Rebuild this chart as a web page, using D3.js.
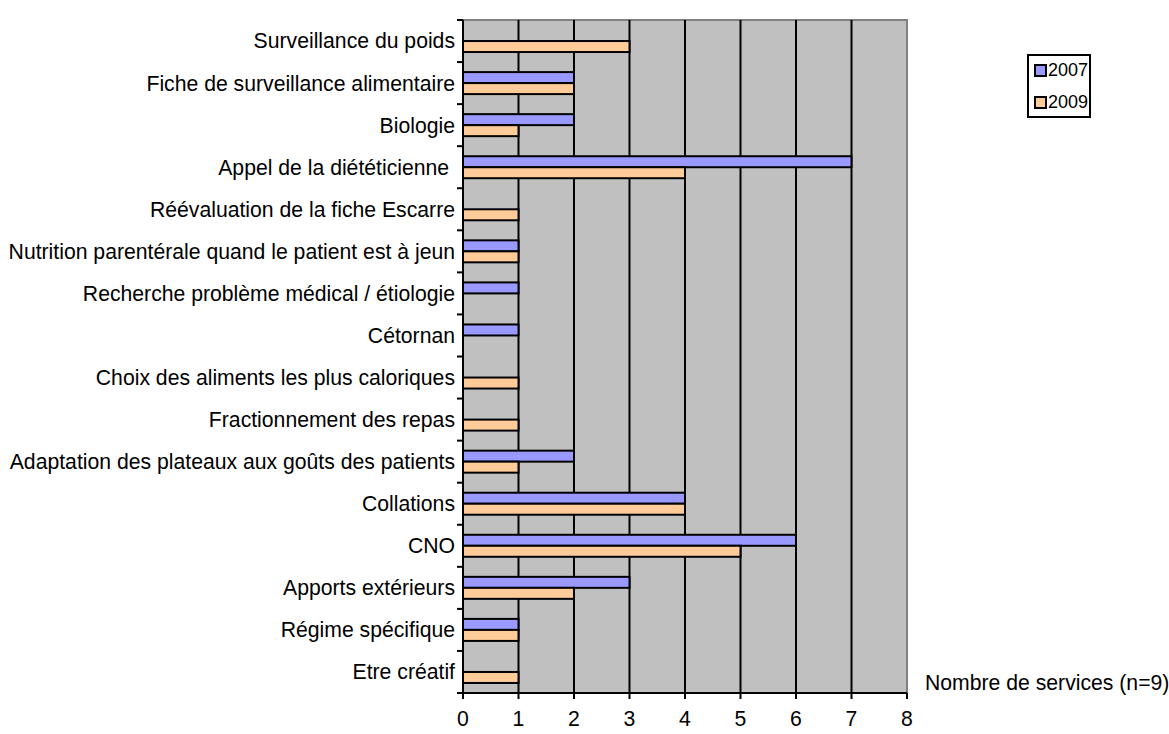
<!DOCTYPE html>
<html><head><meta charset="utf-8">
<script src="https://cdn.jsdelivr.net/npm/d3@7"></script>
<style>body{margin:0;background:#fff;}svg{display:block;font-family:"Liberation Sans",Arial,sans-serif;}</style>
</head><body>
<svg id="c" width="1169" height="734"></svg>
<script>
const categories = ["Surveillance du poids","Fiche de surveillance alimentaire","Biologie","Appel de la diététicienne ","Réévaluation de la fiche Escarre","Nutrition parentérale quand le patient est à jeun","Recherche problème médical / étiologie","Cétornan","Choix des aliments les plus caloriques","Fractionnement des repas","Adaptation des plateaux aux goûts des patients","Collations","CNO","Apports extérieurs","Régime spécifique","Etre créatif"];
const values2007 = [0,2,2,7,0,1,1,1,0,0,2,4,6,3,1,0];
const values2009 = [3,2,1,4,1,1,0,0,1,1,1,4,5,2,1,1];
const seriesNames = ["2007","2009"];
const xTicks = [0,1,2,3,4,5,6,7,8];
const colors = ["#9999FF","#FFCC99"];

const svg = d3.select("#c");
const L=463, R=907, T=20, B=693;
const FS = 21.2;
const x = d3.scaleLinear().domain([0,8]).range([L,R]);
const y = d3.scaleBand().domain(categories).range([T,B]);
const sub = d3.scaleBand().domain(seriesNames).range([y.bandwidth()/2-11, y.bandwidth()/2+11]);

svg.append("rect").attr("x",L).attr("y",T).attr("width",R-L).attr("height",B-T).attr("fill","#C0C0C0");
svg.append("path").attr("d",`M${L},${T}H${R}V${B}`).attr("fill","none").attr("stroke","#808080").attr("stroke-width",2);
svg.selectAll(".g").data(xTicks.slice(1,-1)).join("line")
  .attr("x1",d=>x(d)).attr("x2",d=>x(d)).attr("y1",T).attr("y2",B).attr("stroke","#000").attr("stroke-width",2);

const data = [values2007, values2009];
data.forEach((vals,si)=>{
  svg.selectAll(".b"+si).data(categories.map((c,i)=>({c,v:vals[i]})).filter(d=>d.v>0)).join("rect")
    .attr("x",L).attr("y",d=>y(d.c)+sub(seriesNames[si])).attr("width",d=>x(d.v)-L).attr("height",sub.bandwidth())
    .attr("fill",colors[si]).attr("stroke","#000").attr("stroke-width",2);
});

const ya = svg.append("g");
ya.append("line").attr("x1",L).attr("x2",L).attr("y1",T).attr("y2",B).attr("stroke","#000").attr("stroke-width",2);
const bounds = d3.range(categories.length+1).map(i=>T+i*y.step());
ya.selectAll(".t").data(bounds).join("line").attr("x1",L-6).attr("x2",L).attr("y1",d=>d).attr("y2",d=>d).attr("stroke","#000").attr("stroke-width",2);
ya.selectAll(".l").data(categories).join("text").attr("x",L-8).attr("y",d=>y(d)+y.bandwidth()/2).attr("dy","0.35em")
  .attr("text-anchor","end").attr("font-size",FS).attr("fill","#000").attr("xml:space","preserve").style("white-space","pre").text(d=>d);

const xa = svg.append("g");
xa.append("line").attr("x1",L).attr("x2",R).attr("y1",B).attr("y2",B).attr("stroke","#000").attr("stroke-width",2);
xa.selectAll(".t").data(xTicks).join("line").attr("x1",d=>x(d)).attr("x2",d=>x(d)).attr("y1",B).attr("y2",B+6).attr("stroke","#000").attr("stroke-width",2);
xa.selectAll(".l").data(xTicks).join("text").attr("x",d=>x(d)).attr("y",719).attr("dy","0.35em").attr("text-anchor","middle").attr("font-size",FS).text(d=>d);
svg.append("text").attr("x",925).attr("y",683).attr("dy","0.35em").attr("font-size",FS).text("Nombre de services (n=9)");

const lg = svg.append("g");
lg.append("rect").attr("x",1028).attr("y",55).attr("width",62).attr("height",62).attr("fill","#fff").attr("stroke","#000").attr("stroke-width",2);
seriesNames.forEach((s,i)=>{
  const cy = 70+i*32;
  lg.append("rect").attr("x",1035).attr("y",cy-5).attr("width",11).attr("height",11).attr("fill",colors[i]).attr("stroke","#000").attr("stroke-width",2);
  lg.append("text").attr("x",1048).attr("y",cy).attr("dy","0.35em").attr("font-size",18).text(s);
});
</script>
</body></html>
